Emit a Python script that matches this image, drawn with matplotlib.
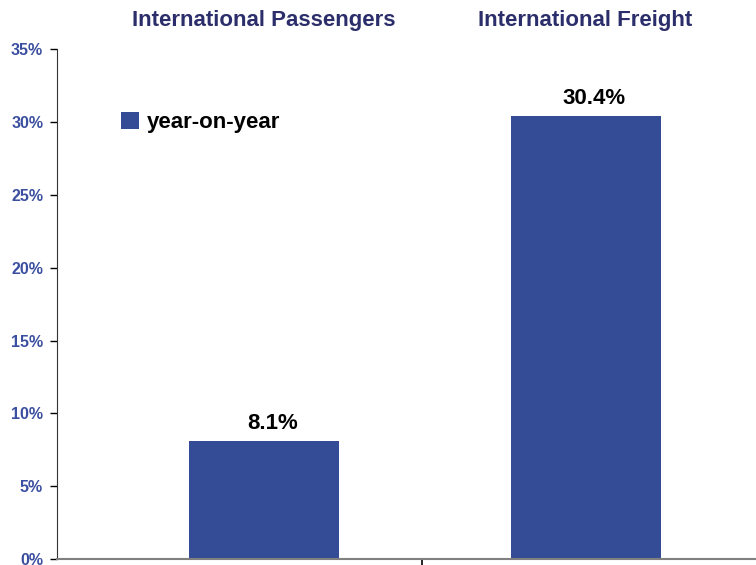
import matplotlib.pyplot as plt
from matplotlib.patches import Patch
from matplotlib.ticker import FuncFormatter

plt.rcParams['font.family'] = ['Liberation Sans', 'DejaVu Sans']

categories = ['International Passengers', 'International Freight']
growth = [8.1, 30.4]
series_name = 'year-on-year'

bar_color = '#344c95'
title_color = '#2b2e6b'
tick_color = '#3b4fa0'

fig = plt.figure(figsize=(7.56, 5.65), dpi=100)
ax = fig.add_axes([0.0754, 0.0106, 0.9246, 0.9021])

x = range(len(categories))
ax.bar(x, growth, width=0.467, color=bar_color, zorder=2)

# value labels above each bar
for xi, val in zip(x, growth):
    ax.annotate(f'{val:.1f}%', (xi, val), xytext=(6, 5), textcoords='offset points',
                ha='center', va='bottom', fontsize=16, fontweight='bold', color='black')

# category names along the top, above the plotting area
for xi, name in zip(x, categories):
    ax.text(xi, 1.056, name, transform=ax.get_xaxis_transform(), ha='center', va='center',
            fontsize=16, fontweight='bold', color=title_color, clip_on=False)

ax.set_xlim(-0.644, 1.53)
ax.set_ylim(0, 35)
ax.set_yticks(range(0, 36, 5))
ax.yaxis.set_major_formatter(FuncFormatter(lambda v, p: f'{v:.0f}%'))
ax.set_xticks([0.49])
ax.set_xticklabels([''])

ax.tick_params(axis='y', direction='out', length=5, width=1, color='black',
               labelcolor=tick_color, labelsize=11.5, pad=5)
for lbl in ax.get_yticklabels():
    lbl.set_fontweight('bold')
ax.tick_params(axis='x', direction='out', length=4, width=1.2, color='black')

ax.spines['top'].set_visible(False)
ax.spines['right'].set_visible(False)
ax.spines['left'].set_color('#333333')
ax.spines['bottom'].set_color('#808080')
ax.spines['bottom'].set_linewidth(1.5)

ax.legend(handles=[Patch(facecolor=bar_color, label=series_name)],
          loc='center left', bbox_to_anchor=(0.0914, 0.856), frameon=False,
          handlelength=0.8, handleheight=0.8, handletextpad=0.35, borderpad=0,
          borderaxespad=0, prop={'weight': 'bold', 'size': 16})

fig.savefig('out.png', dpi=100)
